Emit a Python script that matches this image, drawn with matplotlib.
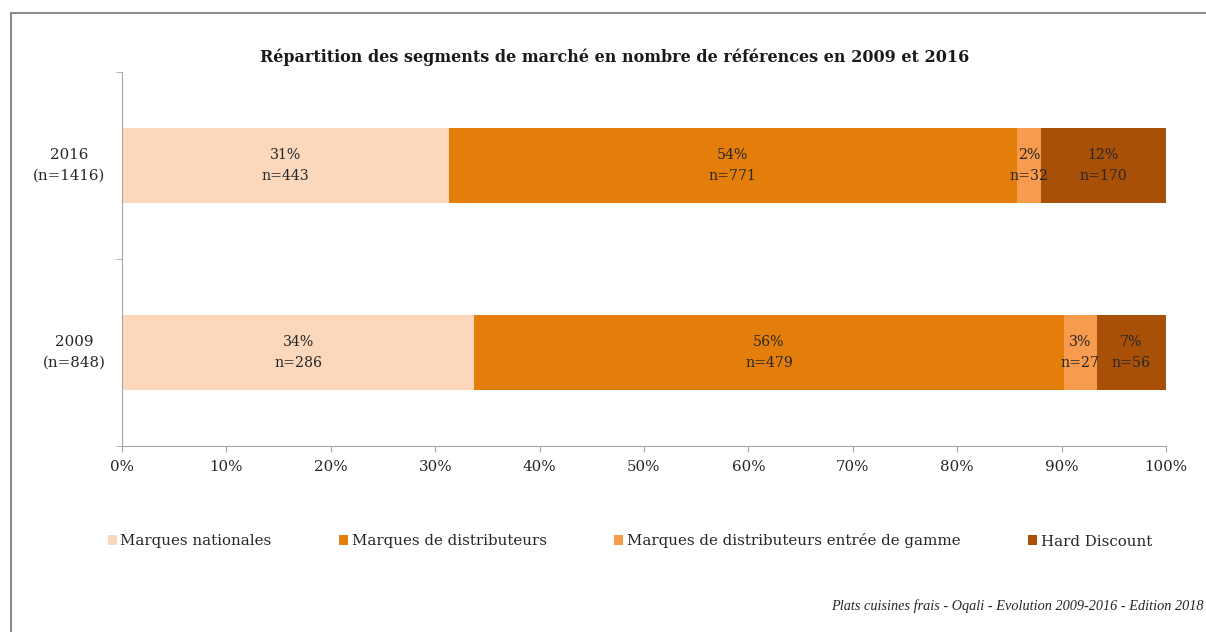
import matplotlib.pyplot as plt
from matplotlib.lines import Line2D
from matplotlib.patches import Patch
import numpy as np

plt.rcParams['font.family'] = ['DejaVu Serif']

years = ['2009\n(n=848)', '2016\n(n=1416)']
segments = ['Marques nationales', 'Marques de distributeurs',
            'Marques de distributeurs entrée de gamme', 'Hard Discount']
counts = {
    'Marques nationales': [286, 443],
    'Marques de distributeurs': [479, 771],
    'Marques de distributeurs entrée de gamme': [27, 32],
    'Hard Discount': [56, 170],
}
colors = ['#fbd7bb', '#e37e0b', '#f79b4f', '#a85008']

totals = np.sum([counts[s] for s in segments], axis=0)

fig = plt.figure(figsize=(12.06, 6.32), dpi=100)
ax = fig.add_axes([122/1206, 1-446/632, 1044/1206, 374/632])

y = np.arange(len(years))
left = np.zeros(len(years))
for seg, col in zip(segments, colors):
    vals = np.array(counts[seg])
    share = vals / totals
    ax.barh(y, share, left=left, height=0.4, color=col, edgecolor='none')
    for i in range(len(years)):
        ax.text(left[i] + share[i]/2, y[i], f'{share[i]*100:.0f}%\nn={vals[i]}',
                ha='center', va='center', fontsize=10.2, color='#262626',
                linespacing=1.55)
    left += share

ax.set_xlim(0, 1)
ax.set_ylim(-0.5, 1.5)
ax.set_xticks(np.arange(0, 1.01, 0.1))
ax.set_xticklabels([f'{v}%' for v in range(0, 101, 10)], fontsize=10.8, color='#262626')
ax.set_yticks(y)
ax.set_yticklabels(years, fontsize=10.8, color='#262626', multialignment='center',
                   linespacing=1.6, va='center')
ax.set_yticks([-0.5, 0.5, 1.5], minor=True)
ax.tick_params(axis='y', which='major', length=0, pad=12)
ax.tick_params(axis='y', which='minor', length=4, color='#a6a6a6', direction='out')
ax.tick_params(axis='x', length=4, color='#a6a6a6', direction='out', pad=6)
for s in ['top', 'right']:
    ax.spines[s].set_visible(False)
for s in ['left', 'bottom']:
    ax.spines[s].set_color('#a6a6a6')

fig.text(615/1206, 1-57/632, 'Répartition des segments de marché en nombre de références en 2009 et 2016',
         ha='center', va='center', fontsize=11.5, fontweight='bold', color='#1a1a1a')

handles = [Patch(facecolor=c, edgecolor='none') for c in colors]
fig.legend(handles, segments, loc='center', bbox_to_anchor=(630/1206, 1-541/632),
           ncol=4, frameon=False, fontsize=10.8, handlelength=0.6, handleheight=0.6,
           handletextpad=0.25, columnspacing=4.5, labelcolor='#262626')

fig.text(1204/1206, 1-606/632, 'Plats cuisines frais - Oqali - Evolution 2009-2016 - Edition 2018',
         ha='right', va='center', fontsize=10.3, style='italic', color='#262626',
         family='Liberation Serif')

# chart frame
fig.add_artist(Line2D([11/1206, 1], [1-13/632, 1-13/632], color='#8c8c8c', lw=1.5))
fig.add_artist(Line2D([11/1206, 11/1206], [0, 1-13/632], color='#8c8c8c', lw=1.5))

fig.savefig('out.png', dpi=100)
